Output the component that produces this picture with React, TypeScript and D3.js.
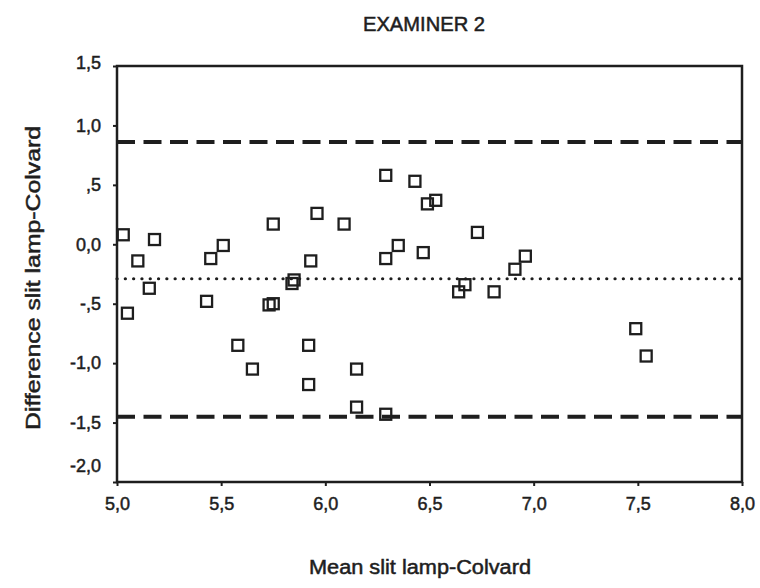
import React, { useEffect, useRef } from 'react';
import * as d3 from 'd3';

const meanValues = [
  5.03, 5.05, 5.10, 5.155, 5.18, 5.43, 5.45, 5.51, 5.58, 5.65, 5.73, 5.75, 5.75,
  5.84, 5.85, 5.92, 5.92, 5.93, 5.96, 6.09, 6.15, 6.15, 6.29, 6.29, 6.29, 6.35,
  6.43, 6.47, 6.49, 6.53, 6.64, 6.67, 6.73, 6.81, 6.91, 6.96, 7.49, 7.54,
];
const diffValues = [
  0.08, -0.58, -0.14, -0.37, 0.04, -0.48, -0.12, -0.01, -0.85, -1.05, -0.51, -0.50, 0.17,
  -0.33, -0.30, -0.85, -1.18, -0.14, 0.26, 0.17, -1.05, -1.37, 0.58, -0.12, -1.43, -0.01,
  0.53, -0.07, 0.34, 0.37, -0.40, -0.34, 0.10, -0.40, -0.21, -0.10, -0.71, -0.94,
];
const meanDiff = -0.29;
const upperLimit = 0.86;
const lowerLimit = -1.45;
const xTicks = [5.0, 5.5, 6.0, 6.5, 7.0, 7.5, 8.0];
const yTicks = [1.5, 1.0, 0.5, 0.0, -0.5, -1.0, -1.5, -2.0];

// SPSS-style labels: comma decimal, no leading zero below 1
const fmt = (v: number) => {
  let s = v.toFixed(1).replace('.', ',');
  if (Math.abs(v) < 1 && v !== 0) s = s.replace('0,', ',');
  return s;
};

const App: React.FC = () => {
  const svgRef = useRef<SVGSVGElement>(null);

  useEffect(() => {
    if (!svgRef.current) return;
    const width = 760;
    const height = 588;
    const margin = { top: 66, right: 18, bottom: 106, left: 117 };

    const svg = d3.select(svgRef.current);
    svg.selectAll('*').remove();

    const x = d3.scaleLinear().domain([5, 8]).range([margin.left, width - margin.right]);
    const y = d3.scaleLinear().domain([-2, 1.5]).range([height - margin.bottom, margin.top]);
    const ink = '#1e1e1e';
    const font = 'Liberation Sans, Arial, sans-serif';

    svg.append('rect').attr('width', width).attr('height', height).attr('fill', '#fff');

    // frame
    svg.append('rect')
      .attr('x', x(5)).attr('y', y(1.5))
      .attr('width', x(8) - x(5)).attr('height', y(-2) - y(1.5))
      .attr('fill', 'none').attr('stroke', ink).attr('stroke-width', 2.5);

    // axes
    const yAxis = svg.append('g')
      .attr('transform', `translate(${x(5)},0)`)
      .call(d3.axisLeft(y).tickValues(yTicks).tickSize(4).tickPadding(12).tickFormat((d) => fmt(+d)));
    const xAxis = svg.append('g')
      .attr('transform', `translate(0,${y(-2)})`)
      .call(d3.axisBottom(x).tickValues(xTicks).tickSize(4).tickPadding(11).tickFormat((d) => fmt(+d)));
    [yAxis, xAxis].forEach((g) => {
      g.select('.domain').remove();
      g.selectAll('line').attr('stroke', ink).attr('stroke-width', 2);
      g.selectAll('text')
        .attr('fill', ink)
        .attr('stroke', ink)
        .attr('stroke-width', 0.5)
        .style('font-family', font)
        .style('font-size', '18px');
    });
    // lowest y label sits raised above the x axis
    yAxis.selectAll<SVGTextElement, number>('text')
      .filter((d) => d === -2)
      .attr('y', -16);
    yAxis.selectAll<SVGTextElement, number>('text')
      .filter((d) => d === 1.5)
      .attr('y', -3);

    // reference lines
    const hline = (v: number, dash: string, w: number) =>
      svg.append('line')
        .attr('x1', x(5)).attr('x2', x(8))
        .attr('y1', y(v)).attr('y2', y(v))
        .attr('stroke', ink).attr('stroke-width', w)
        .attr('stroke-dasharray', dash);
    hline(upperLimit, '18,8.5', 4);
    hline(lowerLimit, '18,8.5', 4);
    hline(meanDiff, '0.1,8.2', 3.2).attr('stroke-linecap', 'round');

    // points
    const s = 11;
    svg.append('g')
      .selectAll('rect')
      .data(meanValues.map((m, i) => ({ m, d: diffValues[i] })))
      .join('rect')
      .attr('x', (p) => x(p.m) - s / 2)
      .attr('y', (p) => y(p.d) - s / 2)
      .attr('width', s).attr('height', s)
      .attr('fill', 'none').attr('stroke', ink).attr('stroke-width', 2.3);

    // titles
    const label = (t: string, len: number) =>
      svg.append('text')
        .attr('text-anchor', 'middle')
        .style('font-family', font).style('font-size', '20px')
        .attr('fill', ink).attr('stroke', ink).attr('stroke-width', 0.5)
        .attr('textLength', len).attr('lengthAdjust', 'spacingAndGlyphs')
        .text(t);
    label('EXAMINER 2', 122).attr('x', 424).attr('y', 31);
    label('Mean slit lamp-Colvard', 222).attr('x', 420).attr('y', 574);
    label('Difference slit lamp-Colvard', 304)
      .attr('transform', `translate(40,${(y(1.5) + y(-2)) / 2 + 4}) rotate(-90)`);
  }, []);

  return (
    <svg
      ref={svgRef}
      width={760}
      height={588}
      style={{ position: 'absolute', left: 0, top: 0, display: 'block' }}
    />
  );
};

export default App;
